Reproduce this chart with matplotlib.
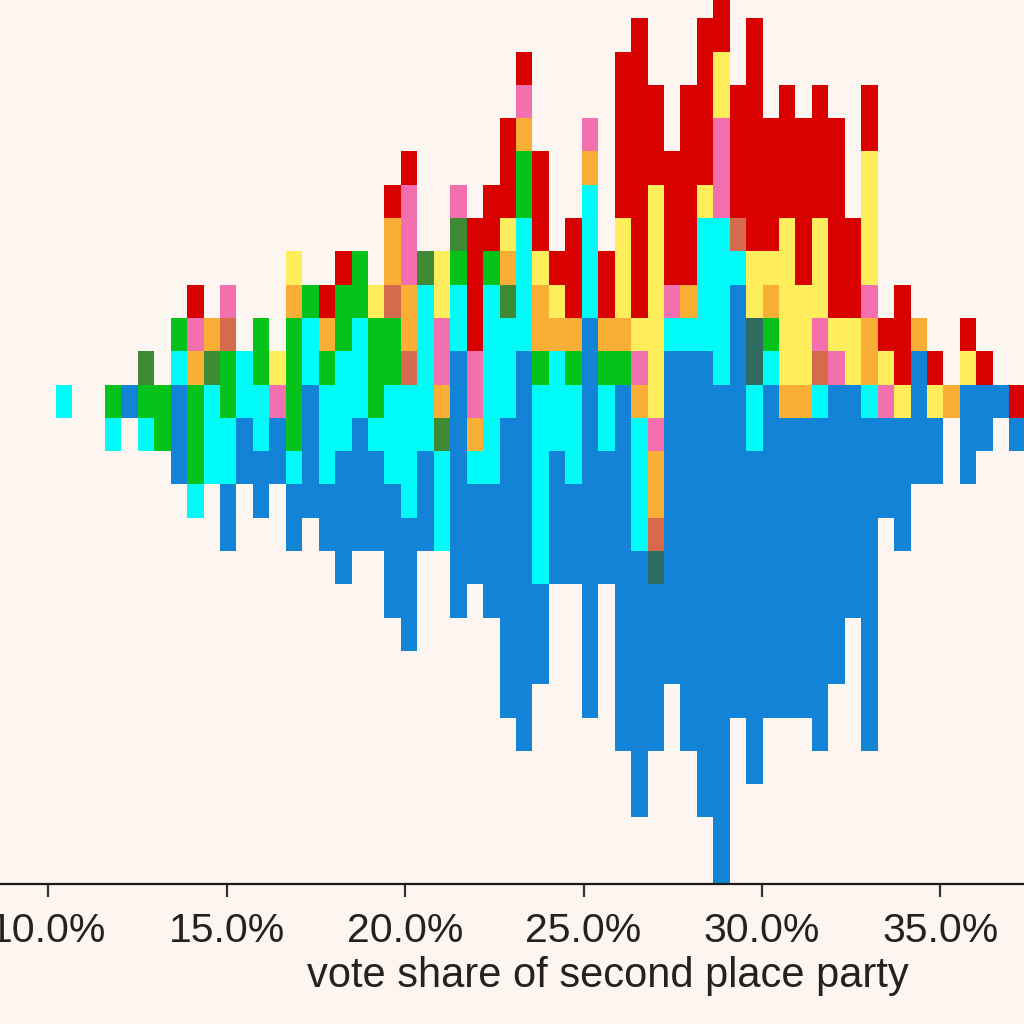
import matplotlib.pyplot as plt
from matplotlib.ticker import FuncFormatter

# colour of each party code
party_colors = {
    "B": "#1383d8",  # blue
    "R": "#d90000",  # red
    "C": "#00fbf8",  # cyan
    "G": "#05c31a",  # green
    "D": "#3e8a35",  # dark green
    "O": "#f9ae35",  # orange
    "Y": "#ffee5c",  # yellow
    "P": "#f46fae",  # pink
    "S": "#d56a4c",  # salmon
    "T": "#2f6b60",  # dark teal
}

# bins of vote share (%)
bin_start = 10.205
bin_width = 0.4608

# for each bin: row index of the top cell, then cells from top to bottom
col_top = [0, 0, 0, 0, 0, 1, 0, 2, 3, 2,
           3, 1, 2, 1, 4, 3, 3, 4, 4, 3,
           6, 7, 4, 4, 6, 5, 6, 8, 10, 7,
           4, 5, 8, 4, 10, 11, 9, 7, 9, 11,
           12, 9, 11, 8, 9, 8, 9, 8, 5, 9,
           2, 3, 2, 1, 0, 2, 1, 0, 0]
col_cells = [
    "C", "", "", "GC", "B", "DGC", "GG", "GCBBB", "RPOGGGC", "ODCCC",
    "PSGGCCBB", "CCBB", "GGCCBB", "YPBB", "YOGGGGCBB", "GCCBBBB", "ROGCCCBB",
    "RGGCCCBBBB", "GGCCCBBBB", "YGGGCBBB",
    "ROOSGGCCCBBBB", "RPPPOOSCCCCBBBB", "DCCCCCBBB", "YYPPODCCC",
    "PDGCCBBBBBBBB", "RRRRPPOCBBB", "RRGCCCCCCBBBB",
    "RRRYODCCC" + "B" * 9,
    "RPOGGCCCC" + "B" * 12,
    "RRRYOOG" + "C" * 6 + "B" * 3,
    "RYOCCC" + "B" * 4,
    "RRROGCCC" + "B" * 3,
    "PO" + "CCCC" + "B" * 12,
    "RROGCC" + "B" * 4,
    "RRRRR" + "YYY" + "OG" + "B" * 11,
    "R" * 9 + "YPO" + "CCCC" + "B" * 8,
    "RRR" + "Y" * 7 + "POOST" + "B" * 5,
    "RRRRPC" + "B" * 10,
    "RRRRRROC" + "B" * 12,
    "RRRRRY" + "CCCC" + "B" * 14,
    "RRYYPPP" + "CCCCC" + "B" * 15,
    "RRRRSC" + "B" * 13,
    "RRRRRRRYYTTCC" + "B" * 10,
    "RRRRYOGC" + "B" * 10,
    "RRRRYYYYYO" + "B" * 9,
    "RRRRRYYYO" + "B" * 9,
    "RRRRYYYPSC" + "B" * 10,
    "RRRRRRYP" + "B" * 9,
    "RRRYY" + "B" * 7,
    "RRYYYYPOOC" + "B" * 10,
    "RYPBBB", "RRRYBBBB", "OBBBB", "RYBB", "O", "RYBBB", "RBB", "B", "RB",
]

xs, bottoms, colors = [], [], []
for k, (top, cells) in enumerate(zip(col_top, col_cells)):
    for i, code in enumerate(cells):
        xs.append(bin_start + k * bin_width)
        bottoms.append(top - i)
        colors.append(party_colors[code])

bg = "#fdf6f0"
fig = plt.figure(figsize=(10.24, 10.24), dpi=100, facecolor=bg)
ax = fig.add_axes([0, 1 - 884 / 1024, 1, 884 / 1024], facecolor=bg)

ax.bar(xs, 1, bottom=bottoms, width=bin_width, align="edge",
       color=colors, linewidth=0, antialiased=False)

ax.set_xlim(8.646, 37.346)
ax.set_ylim(-14, 12.55)
ax.set_yticks([])
for s in ["top", "left", "right"]:
    ax.spines[s].set_visible(False)
ax.spines["bottom"].set_linewidth(1.6)
ax.spines["bottom"].set_color("#1a1a1a")

ax.set_xticks([10, 15, 20, 25, 30, 35])
ax.xaxis.set_major_formatter(FuncFormatter(lambda v, p: f"{v:.1f}%"))
ax.tick_params(axis="x", length=9, width=1.6, color="#333333", pad=11,
               labelsize=29.5, labelcolor="#222222")
for lab in ax.get_xticklabels():
    lab.set_family("Liberation Sans")

fig.text(608 / 1024, 1 - 976 / 1024, "vote share of second place party",
         ha="center", va="center", fontsize=30, color="#222222",
         family="Liberation Sans")

fig.savefig("out.png", dpi=100, facecolor=bg)
